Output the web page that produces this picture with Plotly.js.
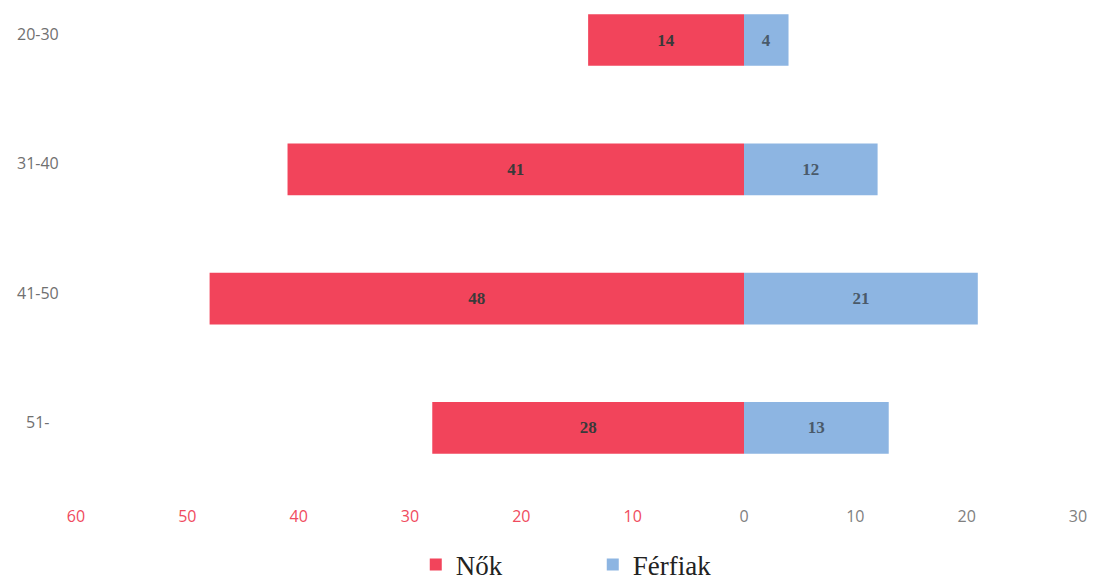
<!DOCTYPE html>
<html>
<head>
<meta charset="utf-8">
<script src="https://cdn.plot.ly/plotly-3.0.1.min.js"></script>
<style>html,body{margin:0;padding:0;background:#fff;}#chart{width:1097px;height:586px;}</style>
</head>
<body>
<div id="chart"></div>
<script>
const categories = ["20-30", "31-40", "41-50", "51-"];
const nok = [14, 41, 48, 28];
const ferfiak = [4, 12, 21, 13];
const tickVals = [-60, -50, -40, -30, -20, -10, 0, 10, 20, 30];
const tickLabels = ["60", "50", "40", "30", "20", "10", "0", "10", "20", "30"];
const seriesNames = ["Nők", "Férfiak"];

const RED = "#F2445B";
const BLUE = "#8DB5E2";

const traces = [
  {
    type: "bar", orientation: "h", name: seriesNames[0],
    y: categories, x: nok.map(v => -v), text: nok.map(String),
    textposition: "inside", insidetextanchor: "middle",
    textfont: {family: "Liberation Serif, Times New Roman, serif", size: 17, color: "#3a3a3a", weight: "bold"},
    marker: {color: RED}, hoverinfo: "skip"
  },
  {
    type: "bar", orientation: "h", name: seriesNames[1],
    y: categories, x: ferfiak, text: ferfiak.map(String),
    textposition: "inside", insidetextanchor: "middle",
    textfont: {family: "Liberation Serif, Times New Roman, serif", size: 17, color: "#4a5a6a", weight: "bold"},
    marker: {color: BLUE}, hoverinfo: "skip"
  }
];

const tickText = tickVals.map((v, i) => v < 0
  ? '<span style="color:#F04B5E">' + tickLabels[i] + '</span>'
  : tickLabels[i]);

const annotations = categories.map(c => ({
  xref: "paper", yref: "y", x: -0.038, y: c, yshift: 6,
  xanchor: "center", yanchor: "middle", showarrow: false, text: c,
  font: {family: "Open Sans, Noto Sans, sans-serif", size: 16, color: "#707070"}
}));

const layout = {
  width: 1097, height: 586,
  margin: {l: 76, r: 19, t: 10, b: 96},
  paper_bgcolor: "#fff", plot_bgcolor: "#fff",
  barmode: "relative", bargap: 0.6,
  showlegend: true,
  legend: {
    orientation: "h", xref: "container", yref: "container",
    x: 0.379, xanchor: "left", y: 0.036, yanchor: "middle",
    font: {family: "Liberation Serif, Times New Roman, serif", size: 27, color: "#222"},
    entrywidth: 132, traceorder: "normal"
  },
  xaxis: {
    range: [-60, 30], tickvals: tickVals, ticktext: tickText,
    showgrid: false, zeroline: false, showline: false,
    ticks: "outside", ticklen: 12, tickcolor: "rgba(0,0,0,0)",
    tickfont: {family: "Open Sans, Noto Sans, sans-serif", size: 16, color: "#808080"},
    fixedrange: true, automargin: false
  },
  yaxis: {
    type: "category", range: [3.48, -0.232],
    showticklabels: false, showgrid: false, zeroline: false, showline: false,
    fixedrange: true
  },
  annotations: annotations
};

Plotly.newPlot("chart", traces, layout, {displayModeBar: false, staticPlot: true});
</script>
</body>
</html>
